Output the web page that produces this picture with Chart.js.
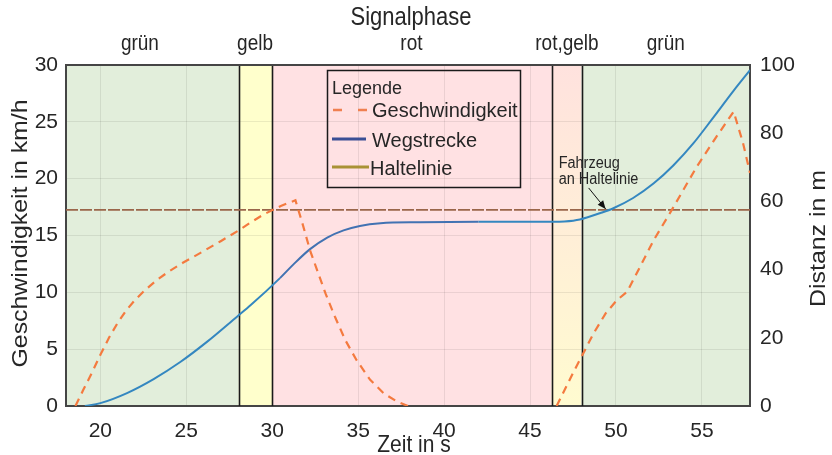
<!DOCTYPE html>
<html lang="de">
<head>
<meta charset="UTF-8">
<title>Signalphase</title>
<script src="https://cdn.jsdelivr.net/npm/chart.js@4.4.1/dist/chart.umd.min.js"></script>
<style>
  body { margin: 0; background: #fff; }
  canvas { display: block; }
</style>
</head>
<body>
<canvas id="chart" width="832" height="455"></canvas>
<script>
// Geschwindigkeit (km/h) ueber Zeit (s); null = Fahrzeug steht
const speedT = [18.55, 19.0, 19.5, 20.0, 20.5, 21.0, 21.5, 22.0, 22.6, 23.3, 24.0, 24.8, 25.8, 27.0, 28.0, 28.7, 29.5, 30.5, 31.35,
                31.75, 32.2, 32.6, 33.1, 33.65, 34.25, 34.9, 35.7, 36.5, 37.25, 37.9, 42.0,
                46.55, 47.5, 48.0, 48.7, 49.4, 50.05, 50.65, 51.2, 52.2, 53.25, 54.7, 55.85, 56.85, 57.4, 57.8];
const speedV = [0, 1.4, 2.9, 4.5, 6.0, 7.3, 8.4, 9.3, 10.2, 11.1, 11.85, 12.6, 13.45, 14.5, 15.4, 16.1, 16.85, 17.6, 18.1,
                16.1, 13.7, 12.0, 9.9, 7.85, 5.8, 4.05, 2.3, 1.1, 0.4, 0, null,
                0, 2.9, 4.35, 6.4, 8.15, 9.3, 10.05, 11.65, 14.6, 17.25, 21.05, 23.7, 25.9, 23.1, 20.5];

// Wegstrecke (m) ueber Zeit (s)
const distT = [19.1, 20.0, 21.55, 23.1, 24.65, 26.2, 27.95, 28.75, 30.45, 31.25, 32.2, 33.2, 34.15, 35.1,
               36.3, 38.6, 42.0, 46.3, 47.0, 47.9, 49.1, 49.85, 51.0, 52.2, 53.35, 54.5, 55.65, 56.85, 57.8];
const distM = [0, 0.85, 3.8, 7.9, 12.9, 18.8, 26.2, 29.6, 37.5, 41.6, 46.0, 49.4, 51.5, 52.8,
               53.6, 53.9, 54.0, 54.0, 54.1, 54.7, 56.6, 58.0, 61.0, 65.3, 70.6, 77.0, 84.5, 92.5, 98.5];

// Haltelinie (m)
const stopLine = 57.5;
const timeRange = [18, 57.8];

// Signalphasen
const phaseNames = ['grün', 'gelb', 'rot', 'rot,gelb', 'grün'];
const phaseStart = [18, 28.05, 30, 46.25, 48];
const phaseEnd = [28.05, 30, 46.25, 48, 57.8];
const phaseLabelAt = [22.3, 29.0, 38.1, 47.15, 52.9];
const phaseColors = ['#e2eedb', '#ffffcc', '#ffe1e3', ['#ffe2de', '#fffbd0'], '#e2eedb'];

// Achsenbeschriftung
const xTicks = [20, 25, 30, 35, 40, 45, 50, 55];
const yTicks = [0, 5, 10, 15, 20, 25, 30];
const y2Ticks = [0, 20, 40, 60, 80, 100];

// Annotation: Fahrzeug erreicht Haltelinie
const arrivalT = 49.4;

const FONT = '"Liberation Sans", Arial, sans-serif';
const TXT = '#262626';
const STRETCH = 1.13;

function text(ctx, str, x, y, size, align, rot) {
  ctx.save();
  ctx.translate(x, y);
  if (rot) { ctx.rotate(rot); ctx.scale(STRETCH, 1); } else ctx.scale(1, STRETCH);
  ctx.font = size + 'px ' + FONT;
  ctx.fillStyle = TXT;
  ctx.textAlign = align;
  ctx.textBaseline = 'alphabetic';
  ctx.fillText(str, 0, 0);
  ctx.restore();
}

const phasePlugin = {
  id: 'phases',
  beforeDraw(chart) {
    const { ctx, chartArea: a, scales: { x } } = chart;
    ctx.save();
    phaseStart.forEach((s, i) => {
      const x0 = x.getPixelForValue(s), x1 = x.getPixelForValue(phaseEnd[i]);
      let fill = phaseColors[i];
      if (Array.isArray(fill)) {
        const g = ctx.createLinearGradient(0, a.top, 0, a.bottom);
        g.addColorStop(0, fill[0]);
        g.addColorStop(1, fill[1]);
        fill = g;
      }
      ctx.fillStyle = fill;
      ctx.fillRect(x0, a.top, x1 - x0, a.bottom - a.top);
    });
    ctx.restore();
  },
  beforeDatasetsDraw(chart) {
    const { ctx, chartArea: a, scales: { x } } = chart;
    ctx.save();
    ctx.strokeStyle = '#1a1a1a';
    ctx.lineWidth = 1.6;
    phaseStart.slice(1).forEach(s => {
      const px = Math.round(x.getPixelForValue(s)) + 0.5;
      ctx.beginPath();
      ctx.moveTo(px, a.top);
      ctx.lineTo(px, a.bottom);
      ctx.stroke();
    });
    // obere Rahmenlinie
    ctx.strokeStyle = '#454545';
    ctx.lineWidth = 2;
    ctx.beginPath();
    ctx.moveTo(a.left, a.top);
    ctx.lineTo(a.right, a.top);
    ctx.stroke();
    ctx.restore();
  },
  afterDraw(chart) {
    const { ctx, chartArea: a, scales: { x, y2 } } = chart;
    const midY = (a.top + a.bottom) / 2;

    text(ctx, 'Signalphase', 411, 25, 22, 'center');
    phaseNames.forEach((n, i) => text(ctx, n, x.getPixelForValue(phaseLabelAt[i]), 50, 19, 'center'));
    text(ctx, 'Zeit in s', 414, 452, 21, 'center');
    text(ctx, 'Geschwindigkeit in km/h', 27, midY - 2, 22, 'center', -Math.PI / 2);
    text(ctx, 'Distanz in m', 825, midY + 3, 22, 'center', -Math.PI / 2);

    // Legende
    ctx.save();
    ctx.strokeStyle = '#1a1a1a';
    ctx.lineWidth = 1.5;
    ctx.strokeRect(327.5, 70.5, 193, 117);
    ctx.fillStyle = TXT;
    ctx.font = '18px ' + FONT;
    ctx.fillText('Legende', 332, 94);
    ctx.font = '20px ' + FONT;
    ctx.fillText('Geschwindigkeit', 372, 117);
    ctx.fillText('Wegstrecke', 372, 147);
    ctx.fillText('Haltelinie', 370, 175);
    ctx.lineWidth = 2.5;
    ctx.strokeStyle = '#f08050';
    ctx.setLineDash([9, 16]);
    ctx.beginPath(); ctx.moveTo(333, 110); ctx.lineTo(367, 110); ctx.stroke();
    ctx.setLineDash([]);
    ctx.lineWidth = 3;
    ctx.strokeStyle = '#3a4f95';
    ctx.beginPath(); ctx.moveTo(332, 139); ctx.lineTo(366, 139); ctx.stroke();
    ctx.strokeStyle = '#a99235';
    ctx.beginPath(); ctx.moveTo(332, 167); ctx.lineTo(369, 167); ctx.stroke();
    ctx.restore();

    // Annotation mit Pfeil
    const tx = x.getPixelForValue(arrivalT), ty = y2.getPixelForValue(stopLine) - 1;
    const sx = tx - 17, sy = ty - 21;
    ctx.save();
    ctx.strokeStyle = '#111';
    ctx.fillStyle = '#111';
    ctx.lineWidth = 1;
    ctx.beginPath(); ctx.moveTo(sx, sy); ctx.lineTo(tx, ty); ctx.stroke();
    const ang = Math.atan2(ty - sy, tx - sx);
    ctx.beginPath();
    ctx.moveTo(tx, ty);
    ctx.lineTo(tx - 9 * Math.cos(ang - 0.4), ty - 9 * Math.sin(ang - 0.4));
    ctx.lineTo(tx - 9 * Math.cos(ang + 0.4), ty - 9 * Math.sin(ang + 0.4));
    ctx.closePath();
    ctx.fill();
    ctx.restore();
    text(ctx, 'Fahrzeug', tx - 47, ty - 41, 14.5, 'left');
    text(ctx, 'an Haltelinie', tx - 47, ty - 25, 14.5, 'left');
  }
};

const pts = (xs, ys) => xs.map((t, i) => ({ x: t, y: ys[i] }));
const fixTicks = list => scale => { scale.ticks = list.map(v => ({ value: v })); };
const tickFont = { family: FONT, size: 21 };
const grid = { color: 'rgba(0,0,0,0.08)', lineWidth: 1, drawTicks: false };
const border = { display: true, color: '#454545', width: 2 };

// Wegstrecke in der Rotphase etwas dunkler
const redPhase = seg => seg.p0.parsed.x >= phaseStart[2] && seg.p1.parsed.x <= phaseEnd[2] ? '#4272b2' : undefined;

new Chart(document.getElementById('chart'), {
  type: 'line',
  data: {
    datasets: [
      {
        label: 'Geschwindigkeit',
        data: pts(speedT, speedV),
        yAxisID: 'y',
        borderColor: '#f47a3f',
        borderWidth: 2.2,
        borderDash: [8, 6],
        pointRadius: 0,
        tension: 0,
        spanGaps: false
      },
      {
        label: 'Wegstrecke',
        data: pts(distT, distM),
        yAxisID: 'y2',
        borderColor: '#3487c0',
        borderWidth: 2,
        pointRadius: 0,
        cubicInterpolationMode: 'monotone',
        segment: { borderColor: redPhase }
      },
      {
        label: 'Haltelinie',
        data: pts(timeRange, [stopLine, stopLine]),
        yAxisID: 'y2',
        borderColor: '#9a664a',
        borderWidth: 1.8,
        borderDash: [12, 2],
        pointRadius: 0
      }
    ]
  },
  options: {
    responsive: false,
    animation: false,
    layout: { padding: { top: 65, left: 0, right: 0, bottom: 0 } },
    plugins: { legend: { display: false }, tooltip: { enabled: false } },
    scales: {
      x: {
        type: 'linear',
        min: timeRange[0],
        max: timeRange[1],
        afterBuildTicks: fixTicks(xTicks),
        afterFit: s => { s.height = 49; },
        ticks: { font: tickFont, color: TXT, padding: 13, maxRotation: 0 },
        grid: grid,
        border: border
      },
      y: {
        position: 'left',
        min: 0,
        max: 30,
        afterBuildTicks: fixTicks(yTicks),
        afterFit: s => { s.width = 66; },
        ticks: { font: tickFont, color: TXT, padding: 8 },
        grid: grid,
        border: border
      },
      y2: {
        position: 'right',
        min: 0,
        max: 100,
        afterBuildTicks: fixTicks(y2Ticks),
        afterFit: s => { s.width = 82; },
        ticks: { font: tickFont, color: TXT, padding: 10 },
        grid: { display: false, drawTicks: false },
        border: border
      }
    }
  },
  plugins: [phasePlugin]
});
</script>
</body>
</html>
